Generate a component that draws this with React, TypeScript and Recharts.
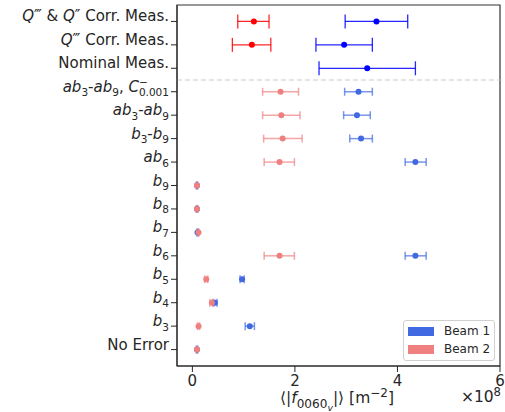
import React from 'react';
import { ScatterChart, Scatter, XAxis, YAxis, ErrorBar, ReferenceLine, ReferenceArea } from 'recharts';

const FONT = '"DejaVu Sans", sans-serif';
const INK = '#262626';

// rows from bottom (0 = No Error) to top
type Part = { t: string; it?: boolean; lv?: number; dx?: number };
const ROW_LABELS: Part[][] = [
  [{ t: 'No Error' }],
  [{ t: 'b', it: true }, { t: '3', lv: 1 }],
  [{ t: 'b', it: true }, { t: '4', lv: 1 }],
  [{ t: 'b', it: true }, { t: '5', lv: 1 }],
  [{ t: 'b', it: true }, { t: '6', lv: 1 }],
  [{ t: 'b', it: true }, { t: '7', lv: 1 }],
  [{ t: 'b', it: true }, { t: '8', lv: 1 }],
  [{ t: 'b', it: true }, { t: '9', lv: 1 }],
  [{ t: 'ab', it: true }, { t: '6', lv: 1 }],
  [{ t: 'b', it: true }, { t: '3', lv: 1 }, { t: '-' }, { t: 'b', it: true }, { t: '9', lv: 1 }],
  [{ t: 'ab', it: true }, { t: '3', lv: 1 }, { t: '-' }, { t: 'ab', it: true }, { t: '9', lv: 1 }],
  [
    { t: 'ab', it: true }, { t: '3', lv: 1 }, { t: '-' }, { t: 'ab', it: true }, { t: '9', lv: 1 },
    { t: ', ' }, { t: 'C', it: true }, { t: '−', lv: -1 }, { t: '0.001', lv: 1, dx: -8.8 },
  ],
  [{ t: 'Nominal Meas.' }],
  [{ t: 'Q', it: true }, { t: '‴ Corr. Meas.' }],
  [{ t: 'Q', it: true }, { t: '‴ & ' }, { t: 'Q', it: true }, { t: '″ Corr. Meas.' }],
];
const ROW_TICKS = ROW_LABELS.map((_, i) => i);

// x values in units of 1e8 m^-2
const X_TICKS = [0, 2, 4, 6];

// single error sources, rows 0..11
const errRows = [0, 1, 2, 3, 4, 5, 6, 7, 8, 9, 10, 11];
const beam1Mean = [0.09, 1.12, 0.44, 0.97, 4.35, 0.10, 0.09, 0.09, 4.35, 3.29, 3.21, 3.24];
const beam1Low = [0.08, 1.03, 0.40, 0.93, 4.15, 0.09, 0.08, 0.08, 4.15, 3.07, 2.95, 2.97];
const beam1High = [0.10, 1.21, 0.48, 1.01, 4.56, 0.11, 0.10, 0.10, 4.56, 3.51, 3.47, 3.51];
const beam2Mean = [0.09, 0.12, 0.38, 0.27, 1.70, 0.12, 0.09, 0.09, 1.70, 1.76, 1.735, 1.72];
const beam2Low = [0.08, 0.10, 0.34, 0.24, 1.40, 0.11, 0.08, 0.08, 1.40, 1.39, 1.37, 1.37];
const beam2High = [0.10, 0.14, 0.42, 0.30, 1.99, 0.13, 0.10, 0.10, 1.99, 2.14, 2.10, 2.07];

// measurements, rows 12..14
const measBlueRows = [12, 13, 14];
const measBlueMean = [3.41, 2.96, 3.59];
const measBlueLow = [2.47, 2.41, 2.98];
const measBlueHigh = [4.35, 3.51, 4.20];
const measRedRows = [13, 14];
const measRedMean = [1.16, 1.2];
const measRedLow = [0.78, 0.885];
const measRedHigh = [1.53, 1.495];

const toPoints = (rows: number[], mean: number[], low: number[], high: number[]) =>
  rows.map((r, i) => ({ x: mean[i], y: r, err: [mean[i] - low[i], high[i] - mean[i]] }));

const beam1 = toPoints(errRows, beam1Mean, beam1Low, beam1High);
const beam2 = toPoints(errRows, beam2Mean, beam2Low, beam2High);
const measBlue = toPoints(measBlueRows, measBlueMean, measBlueLow, measBlueHigh);
const measRed = toPoints(measRedRows, measRedMean, measRedLow, measRedHigh);

const SHIFT: Record<number, number> = { 0: 0, 1: 4.5, 2: 7.5, [-1]: -6 };

// mathtext-ish label made of tspans
const renderParts = (parts: Part[], size: number, k1 = 0.7, k2 = 0.55) => {
  const sizeK: Record<number, number> = { 0: 1, 1: k1, 2: k2, [-1]: k1 };
  let cur = 0;
  return parts.map((p, k) => {
    const lv = p.lv ?? 0;
    const shift = (SHIFT[lv] * size) / 15;
    const dy = shift - cur;
    cur = shift;
    return (
      <tspan key={k} dy={dy} dx={p.dx} fontStyle={p.it ? 'italic' : 'normal'} fontSize={size * sizeK[lv]}>
        {p.t}
      </tspan>
    );
  });
};

const YTick = ({ x, y, payload }: any) => {
  const parts = ROW_LABELS[payload.value];
  if (!parts) return null;
  return (
    <text x={x} y={y} dy={5.5} textAnchor="end" fill={INK} fontFamily={FONT} fontSize={15} style={{ whiteSpace: 'pre' }}>
      {renderParts(parts, 15)}
    </text>
  );
};

const X_LABEL: Part[] = [
  { t: '⟨|' }, { t: 'f', it: true }, { t: '0060', lv: 1 }, { t: 'v', it: true, lv: 2 },
  { t: '|⟩ [m' }, { t: '−2', lv: -1 }, { t: ']' },
];
const X_SCALE: Part[] = [{ t: '×10' }, { t: '8', lv: -1 }];

const XLabel = () => (
  <g fontFamily={FONT} fill={INK}>
    <text x={337} y={403} textAnchor="middle" fontSize={15.5} style={{ whiteSpace: 'pre' }}>
      {renderParts(X_LABEL, 15.5, 0.78, 0.6)}
    </text>
    <text x={501} y={402} textAnchor="end" fontSize={15.5}>
      {renderParts(X_SCALE, 15.5, 0.75)}
    </text>
  </g>
);

const dot = (color: string) => (props: any) => <circle cx={props.cx} cy={props.cy} r={3} fill={color} />;

const LEGEND = [
  { name: 'Beam 1', color: '#4169e1' },
  { name: 'Beam 2', color: '#f08080' },
];

export default function App() {
  return (
    <div style={{ position: 'absolute', left: 0, top: 0, width: 505, height: 412, background: '#fff' }}>
      <ScatterChart width={505} height={412} margin={{ top: 5, right: 5, bottom: 0, left: 0 }}>
        <XAxis
          type="number"
          dataKey="x"
          domain={[-0.3, 6]}
          ticks={X_TICKS}
          tickSize={6}
          tickMargin={3}
          height={46}
          stroke={INK}
          tick={{ fill: INK, fontSize: 15, fontFamily: FONT }}
          label={<XLabel />}
        />
        <YAxis
          type="number"
          dataKey="y"
          domain={[-0.7, 14.7]}
          ticks={ROW_TICKS}
          interval={0}
          tickSize={6}
          tickMargin={2}
          width={177}
          stroke={INK}
          tick={<YTick />}
        />
        <ReferenceArea x1={-0.3} x2={6} y1={-0.7} y2={14.7} fill="none" stroke="#333" strokeWidth={1.2} />
        <ReferenceLine y={11.5} stroke="#cccccc" strokeDasharray="5 3" strokeWidth={1.2} />
        <Scatter data={beam1} shape={dot('#4169e1')} isAnimationActive={false}>
          <ErrorBar dataKey="err" direction="x" width={4} stroke="rgba(65,105,225,0.7)" strokeWidth={1.5} />
        </Scatter>
        <Scatter data={beam2} shape={dot('#f08080')} isAnimationActive={false}>
          <ErrorBar dataKey="err" direction="x" width={4} stroke="rgba(240,128,128,0.7)" strokeWidth={1.5} />
        </Scatter>
        <Scatter data={measBlue} shape={dot('#0000ff')} isAnimationActive={false}>
          <ErrorBar dataKey="err" direction="x" width={7} stroke="rgba(0,0,255,0.85)" strokeWidth={1.3} />
        </Scatter>
        <Scatter data={measRed} shape={dot('#ff0000')} isAnimationActive={false}>
          <ErrorBar dataKey="err" direction="x" width={7} stroke="rgba(255,0,0,0.85)" strokeWidth={1.3} />
        </Scatter>
      </ScatterChart>
      <div
        style={{
          position: 'absolute', left: 403, top: 320, width: 90, height: 39,
          border: '1px solid #d0d0d0', borderRadius: 3, background: 'rgba(255,255,255,0.8)',
          fontFamily: FONT, fontSize: 12, color: INK,
        }}
      >
        {LEGEND.map((l, i) => (
          <div key={l.name} style={{ position: 'absolute', left: 4, top: 5 + i * 18, display: 'flex', alignItems: 'center', height: 10 }}>
            <span style={{ display: 'inline-block', width: 26, height: 9, background: l.color }} />
            <span style={{ marginLeft: 10, lineHeight: '10px' }}>{l.name}</span>
          </div>
        ))}
      </div>
    </div>
  );
}
